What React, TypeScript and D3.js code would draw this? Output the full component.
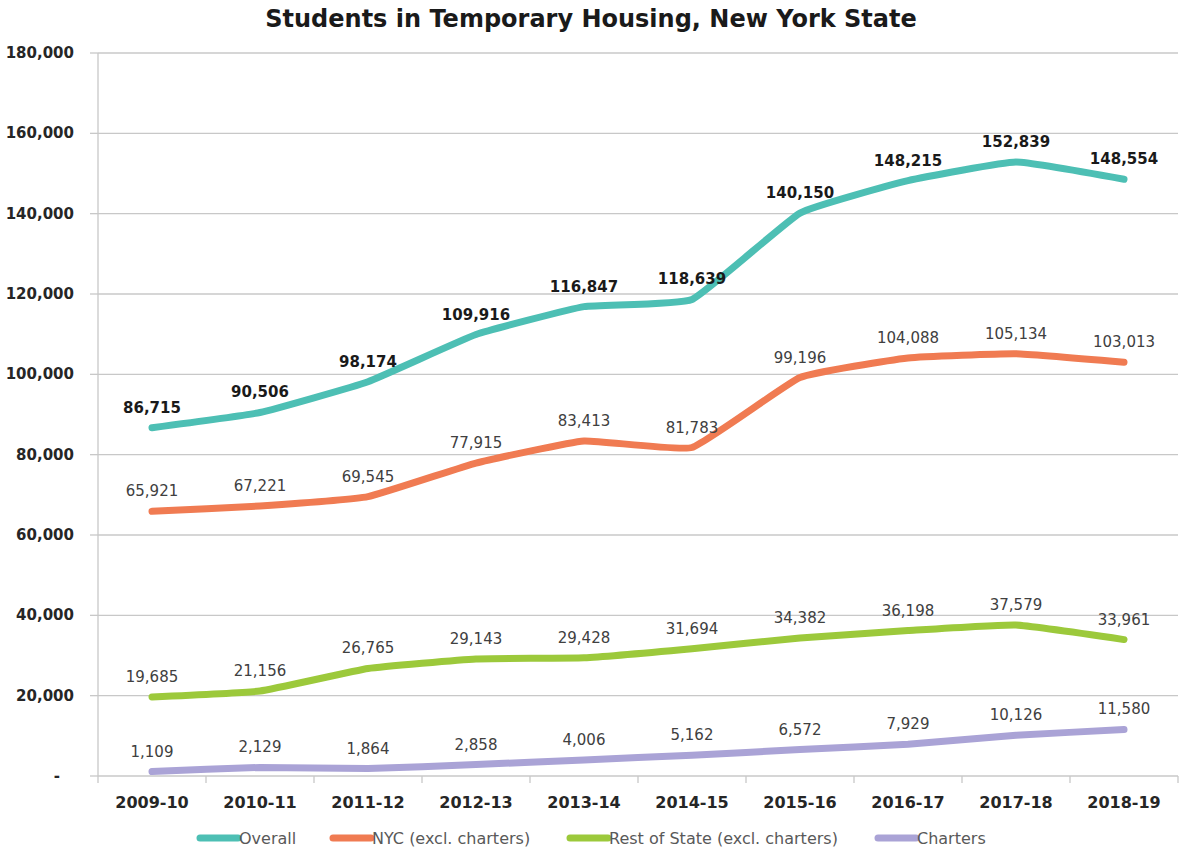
import React from "react";
import * as d3 from "d3";

const years = ["2009-10","2010-11","2011-12","2012-13","2013-14","2014-15","2015-16","2016-17","2017-18","2018-19"];
const overall = [86715, 90506, 98174, 109916, 116847, 118639, 140150, 148215, 152839, 148554];
const nyc = [65921, 67221, 69545, 77915, 83413, 81783, 99196, 104088, 105134, 103013];
const restOfState = [19685, 21156, 26765, 29143, 29428, 31694, 34382, 36198, 37579, 33961];
const charters = [1109, 2129, 1864, 2858, 4006, 5162, 6572, 7929, 10126, 11580];
const yTicks = [0, 20000, 40000, 60000, 80000, 100000, 120000, 140000, 160000, 180000];

const seriesList = [
  { name: "Overall", values: overall, color: "#4dbfb4", bold: true },
  { name: "NYC (excl. charters)", values: nyc, color: "#f07b52", bold: false },
  { name: "Rest of State (excl. charters)", values: restOfState, color: "#9cc93b", bold: false },
  { name: "Charters", values: charters, color: "#aaa3d6", bold: false },
];

const legendX = [200, 333, 570, 878];

const W = 1181, H = 852;
const left = 98, right = 1178, top = 53, bottom = 776;
const font = "'DejaVu Sans', sans-serif";

export default function App() {
  const x = d3.scaleBand().domain(years).range([left, right]);
  const y = d3.scaleLinear().domain([0, 180000]).range([bottom, top]);
  const fmt = d3.format(",");
  const line = d3.line<number>()
    .x((_, i) => (x(years[i]) as number) + x.bandwidth() / 2)
    .y((d) => y(d))
    .curve(d3.curveCardinal.tension(0.65));

  return (
    <svg width={W} height={H} style={{ position: "absolute", left: 0, top: 0, background: "#fff" }} fontFamily={font}>
      <rect width={W} height={H} fill="#fff" />
      <text x={591} y={27} textAnchor="middle" fontSize={24} fontWeight="bold" fill="#1a1a1a">
        Students in Temporary Housing, New York State
      </text>
      {yTicks.map((t) => (
        <g key={t}>
          {t > 0 && <line x1={left} x2={right} y1={y(t)} y2={y(t)} stroke="#c8c8c8" strokeWidth={1.3} />}
          <line x1={left - 8} x2={left} y1={y(t)} y2={y(t)} stroke="#c8c8c8" strokeWidth={1.3} />
          <text x={t === 0 ? 60 : 74} y={y(t) + 5} textAnchor="end" fontSize={15} fontWeight="bold" fill="#262626">
            {t === 0 ? "-" : fmt(t)}
          </text>
        </g>
      ))}
      <line x1={left} x2={left} y1={top} y2={bottom} stroke="#c8c8c8" strokeWidth={1.3} />
      <line x1={left} x2={right} y1={bottom} y2={bottom} stroke="#c8c8c8" strokeWidth={1.3} />
      <line x1={left} x2={left} y1={bottom} y2={bottom + 7} stroke="#c8c8c8" strokeWidth={1.3} />
      {years.map((yr) => (
        <g key={yr}>
          <line x1={(x(yr) as number) + x.bandwidth()} x2={(x(yr) as number) + x.bandwidth()} y1={bottom} y2={bottom + 7} stroke="#c8c8c8" strokeWidth={1.3} />
          <text x={(x(yr) as number) + x.bandwidth() / 2} y={808} textAnchor="middle" fontSize={16} fontWeight="bold" fill="#262626">
            {yr}
          </text>
        </g>
      ))}
      {seriesList.map((s) => (
        <path key={s.name} d={line(s.values) as string} fill="none" stroke={s.color} strokeWidth={7} strokeLinecap="round" strokeLinejoin="round" />
      ))}
      {seriesList.map((s) => (
        <g key={s.name + "-labels"}>
          {s.values.map((v, i) => (
            <text key={i} x={(x(years[i]) as number) + x.bandwidth() / 2} y={y(v) - 15} textAnchor="middle"
              fontSize={15} fontWeight={s.bold ? "bold" : "normal"} fill={s.bold ? "#1a1a1a" : "#404040"}>
              {fmt(v)}
            </text>
          ))}
        </g>
      ))}
      {seriesList.map((s, i) => (
        <g key={s.name + "-legend"}>
          <line x1={legendX[i]} x2={legendX[i] + 38} y1={838} y2={838} stroke={s.color} strokeWidth={7} strokeLinecap="round" />
          <text x={legendX[i] + 39} y={844} fontSize={16} fill="#595959">{s.name}</text>
        </g>
      ))}
    </svg>
  );
}
